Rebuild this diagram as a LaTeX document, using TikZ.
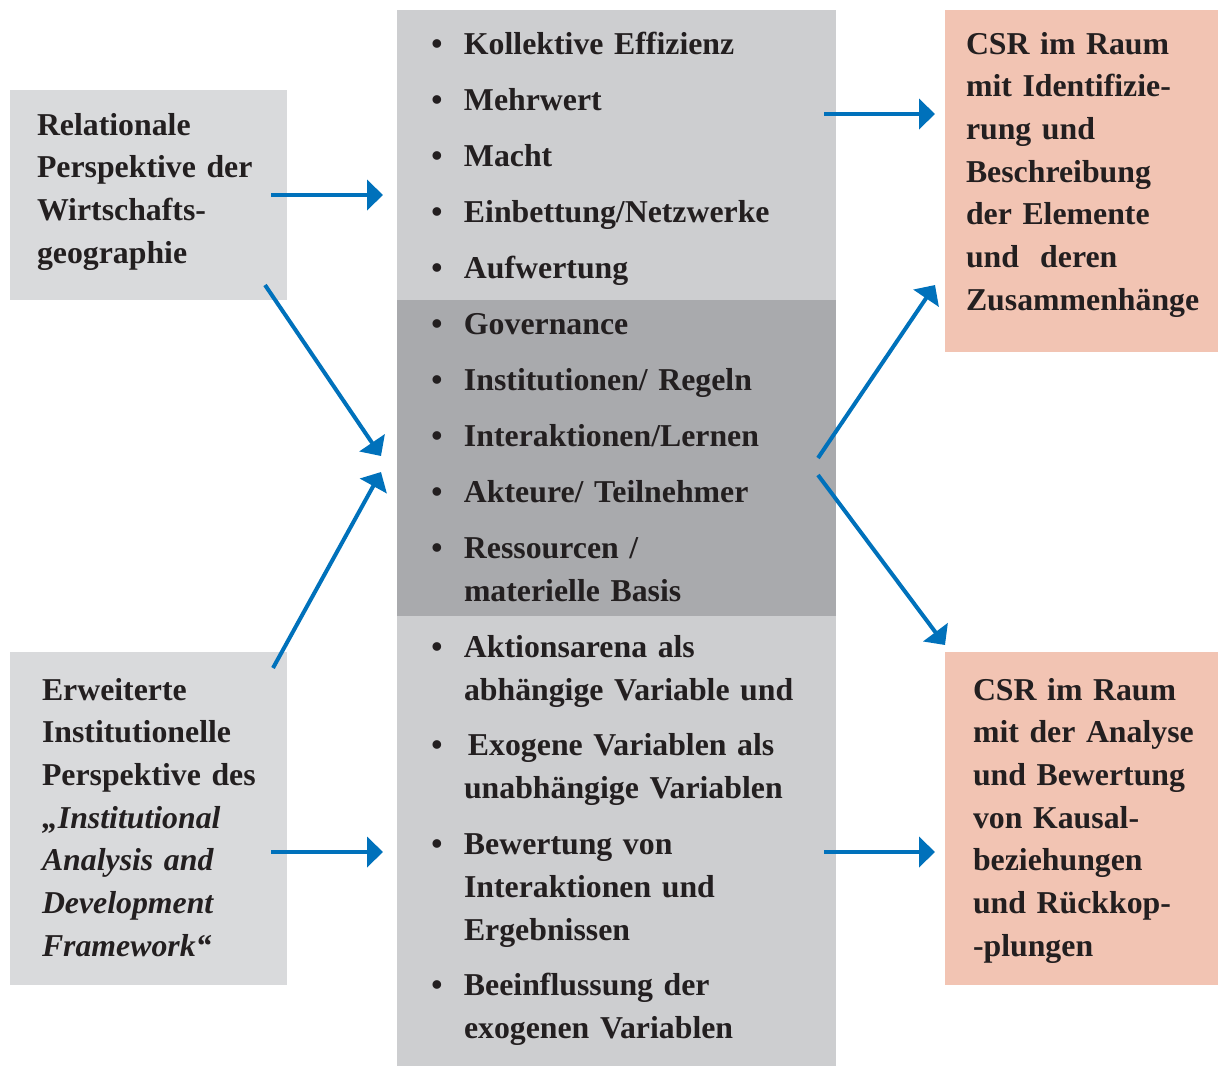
\documentclass[tikz,border=0pt]{standalone}
\usepackage{fontspec}
\setmainfont{Liberation Serif}
\usetikzlibrary{arrows.meta}
\definecolor{sidegray}{HTML}{D9DADC}
\definecolor{midlight}{HTML}{CDCED0}
\definecolor{middark}{HTML}{A9AAAD}
\definecolor{salmon}{HTML}{F2C4B3}
\definecolor{arrowblue}{HTML}{0071BB}
\definecolor{textdark}{HTML}{231F20}
\begin{document}
\begin{tikzpicture}[x=1pt,y=-1pt,
  panel/.style={anchor=north west, inner sep=0pt, outer sep=0pt, draw=none},
  txt/.style={anchor=base west, inner sep=0pt, outer sep=0pt, text width=330pt, align=left,
    font=\fontsize{31.8}{42.7}\selectfont\bfseries, text=textdark},
  itm/.style={txt, font=\fontsize{31.8}{43}\selectfont\bfseries},
  arr/.style={draw=arrowblue, line width=4pt, -{Triangle[length=16pt,width=30pt]}}]
\newcommand{\bul}{\llap{\textbullet\hspace{21.5pt}}}
\useasboundingbox (0,0) rectangle (1218,1066);
% panels
\node[panel, fill=sidegray, minimum width=277pt, minimum height=210pt] (rel) at (10,90) {};
\node[panel, fill=sidegray, minimum width=277pt, minimum height=333pt] (inst) at (10,652) {};
\node[panel, fill=midlight, minimum width=439pt, minimum height=290pt] (top) at (397,10) {};
\node[panel, fill=middark, minimum width=439pt, minimum height=316pt] (mid) at (397,300) {};
\node[panel, fill=midlight, minimum width=439pt, minimum height=450pt] (bot) at (397,616) {};
\node[panel, fill=salmon, minimum width=273pt, minimum height=342pt] (csr1) at (945,10) {};
\node[panel, fill=salmon, minimum width=273pt, minimum height=333pt] (csr2) at (945,652) {};
% left texts
\node[txt] (relT) at (37,135) {Relationale\\Perspektive der\\Wirtschafts-\\geographie};
\node[txt] (instT) at (42,700) {Erweiterte\\Institutionelle\\Perspektive des\\\textit{„Institutional\\Analysis and\\Development\\Framework“}};
% right texts
\node[txt] (csr1T) at (966,54) {CSR im Raum\\mit Identifizie-\\rung und\\Beschreibung\\der Elemente\\und\ \ deren\\Zusammenhänge};
\node[txt] (csr2T) at (973,700) {CSR im Raum\\mit der Analyse\\und Bewertung\\von Kausal-\\beziehungen\\und Rückkop-\\-plungen};
% center items
\node[itm] (i1) at (464,54) {\bul Kollektive Effizienz};
\node[itm] (i2) at (464,110) {\bul Mehrwert};
\node[itm] (i3) at (464,166) {\bul Macht};
\node[itm] (i4) at (464,222) {\bul Einbettung/Netzwerke};
\node[itm] (i5) at (464,278) {\bul Aufwertung};
\node[itm] (i6) at (464,334) {\bul Governance};
\node[itm] (i7) at (464,390) {\bul Institutionen/ Regeln};
\node[itm] (i8) at (464,446) {\bul Interaktionen/Lernen};
\node[itm] (i9) at (464,502) {\bul Akteure/ Teilnehmer};
\node[itm] (i10) at (464,558) {\bul Ressourcen /\\materielle Basis};
\node[itm] (i11) at (464,657) {\bul Aktionsarena als\\abhängige Variable und};
\node[itm] (i12) at (464,755) {\bul\hspace*{4pt}Exogene Variablen als\\unabhängige Variablen};
\node[itm] (i13) at (464,854) {\bul Bewertung von\\Interaktionen und\\Ergebnissen};
\node[itm] (i14) at (464,995) {\bul Beeinflussung der\\exogenen Variablen};
% connector end points
\coordinate (a1s) at (271,195); \coordinate (a1e) at (383,195);
\coordinate (a2s) at (265,285); \coordinate (a2e) at (381,456);
\coordinate (a3s) at (273,668); \coordinate (a3e) at (381,472);
\coordinate (a4s) at (271,852); \coordinate (a4e) at (383,852);
\coordinate (a5s) at (824,114); \coordinate (a5e) at (935,114);
\coordinate (a6s) at (818,458); \coordinate (a6e) at (935,285);
\coordinate (a7s) at (818,475); \coordinate (a7e) at (945,645);
\coordinate (a8s) at (824,852); \coordinate (a8e) at (935,852);
\draw[arr] (a1s) -- (a1e);
\draw[arr] (a2s) -- (a2e);
\draw[arr] (a3s) -- (a3e);
\draw[arr] (a4s) -- (a4e);
\draw[arr] (a5s) -- (a5e);
\draw[arr] (a6s) -- (a6e);
\draw[arr] (a7s) -- (a7e);
\draw[arr] (a8s) -- (a8e);
\end{tikzpicture}
\end{document}
